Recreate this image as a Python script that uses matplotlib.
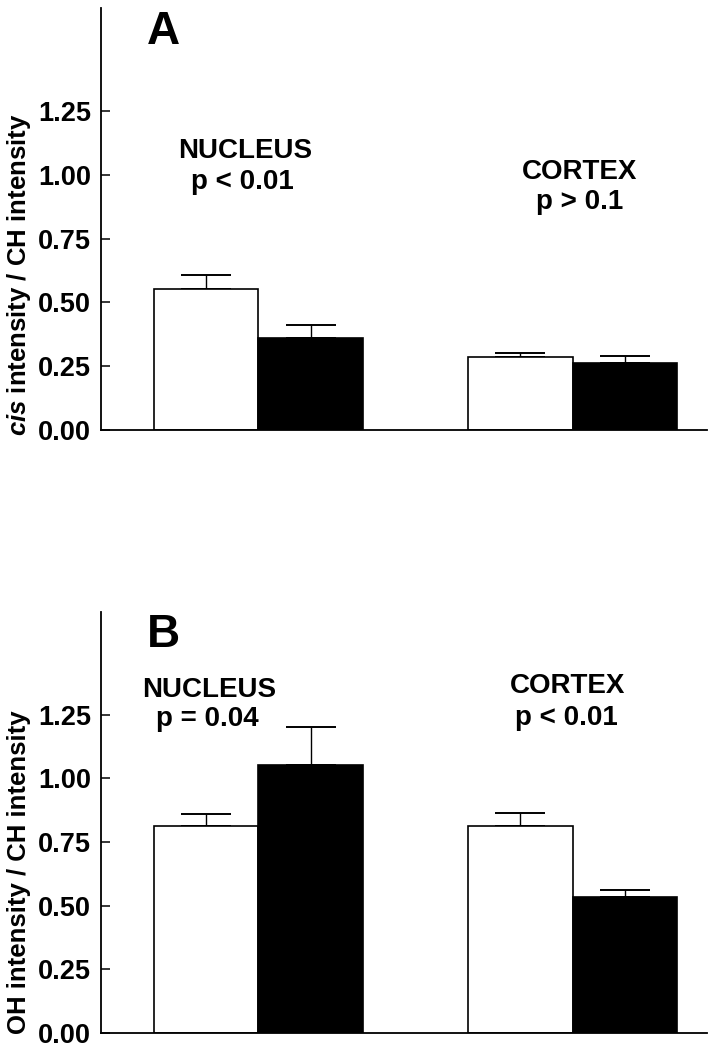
import matplotlib
matplotlib.use("Agg")
import matplotlib.pyplot as plt
import numpy as np

plt.rcParams['font.family'] = ['Liberation Sans', 'DejaVu Sans']
plt.rcParams['font.weight'] = 'bold'
plt.rcParams['mathtext.fontset'] = 'custom'
plt.rcParams['mathtext.it'] = 'Liberation Sans:italic:bold'
plt.rcParams['mathtext.rm'] = 'Liberation Sans:bold'

# ---- data ----
groups = ["NUCLEUS", "CORTEX"]
yticks = [0.00, 0.25, 0.50, 0.75, 1.00, 1.25]
ytick_labels = ["0.00", "0.25", "0.50", "0.75", "1.00", "1.25"]

a_white = [0.552, 0.284]
a_white_err = [0.057, 0.018]
a_black = [0.362, 0.262]
a_black_err = [0.051, 0.028]
a_pvals = ["p < 0.01", "p > 0.1"]

b_white = [0.811, 0.811]
b_white_err = [0.050, 0.051]
b_black = [1.053, 0.534]
b_black_err = [0.149, 0.028]
b_pvals = ["p = 0.04", "p < 0.01"]

W, H = 709, 1050
fig = plt.figure(figsize=(W / 100, H / 100), dpi=100)

def px_axes(left, right, top, bottom):
    return fig.add_axes([left / W, 1 - bottom / H, (right - left) / W, (bottom - top) / H])

axA = px_axes(101, 707, 8, 430)
axB = px_axes(101, 707, 612, 1033)

bw = 0.333
x = np.arange(len(groups))

def draw(ax, white, werr, black, berr):
    ax.bar(x - bw / 2, white, bw, color='white', edgecolor='black', linewidth=1.2, zorder=2)
    ax.bar(x + bw / 2, black, bw, color='black', edgecolor='black', linewidth=1.2, zorder=2)
    ax.errorbar(x - bw / 2, white, yerr=[np.zeros(len(werr)), werr], fmt='none',
                ecolor='black', elinewidth=1.0, capsize=18, capthick=1.4, zorder=1)
    ax.errorbar(x + bw / 2, black, yerr=[np.zeros(len(berr)), berr], fmt='none',
                ecolor='black', elinewidth=1.0, capsize=18, capthick=1.4, zorder=1)
    ax.set_ylim(0, 1.653)
    ax.set_xlim(-0.5, 1.427)
    ax.set_yticks(yticks)
    ax.set_yticklabels(ytick_labels)
    ax.tick_params(axis='y', direction='in', length=6.5, width=1.1, pad=7, labelsize=19.5)
    ax.set_xticks([])
    for s in ['top', 'right']:
        ax.spines[s].set_visible(False)
    for s in ['left', 'bottom']:
        ax.spines[s].set_linewidth(1.3)
    for lab in ax.get_yticklabels():
        lab.set_fontweight('bold')

draw(axA, a_white, a_white_err, a_black, a_black_err)
draw(axB, b_white, b_white_err, b_black, b_black_err)

# Panel letters
axA.text(-0.355, 1.512, "A", fontsize=33, fontweight='bold', ha='left', va='baseline')
axB.text(-0.355, 1.516, "B", fontsize=33, fontweight='bold', ha='left', va='baseline')

# Annotations panel A
fs = 20
axA.text(-0.04, 1.066, groups[0], fontsize=fs, fontweight='bold', ha='center', va='baseline')
axA.text(-0.05, 0.945, a_pvals[0], fontsize=fs, fontweight='bold', ha='center', va='baseline')
axA.text(1.022, 0.983, groups[1], fontsize=fs, fontweight='bold', ha='center', va='baseline')
axA.text(1.022, 0.867, a_pvals[1], fontsize=fs, fontweight='bold', ha='center', va='baseline')

# Annotations panel B
axB.text(-0.157, 1.319, groups[0], fontsize=fs, fontweight='bold', ha='center', va='baseline')
axB.text(-0.163, 1.207, b_pvals[0], fontsize=fs, fontweight='bold', ha='center', va='baseline')
axB.text(0.983, 1.334, groups[1], fontsize=fs, fontweight='bold', ha='center', va='baseline')
axB.text(0.981, 1.210, b_pvals[1], fontsize=fs, fontweight='bold', ha='center', va='baseline')

# y labels
fig.text(19 / W, 1 - 275 / H, r"$\mathit{cis}$ intensity / CH intensity", rotation=90,
         fontsize=18.5, fontweight='bold', ha='center', va='center')
fig.text(19 / W, 1 - 872 / H, "OH intensity / CH intensity", rotation=90,
         fontsize=18.5, fontweight='bold', ha='center', va='center')

fig.savefig("out.png", dpi=100)
